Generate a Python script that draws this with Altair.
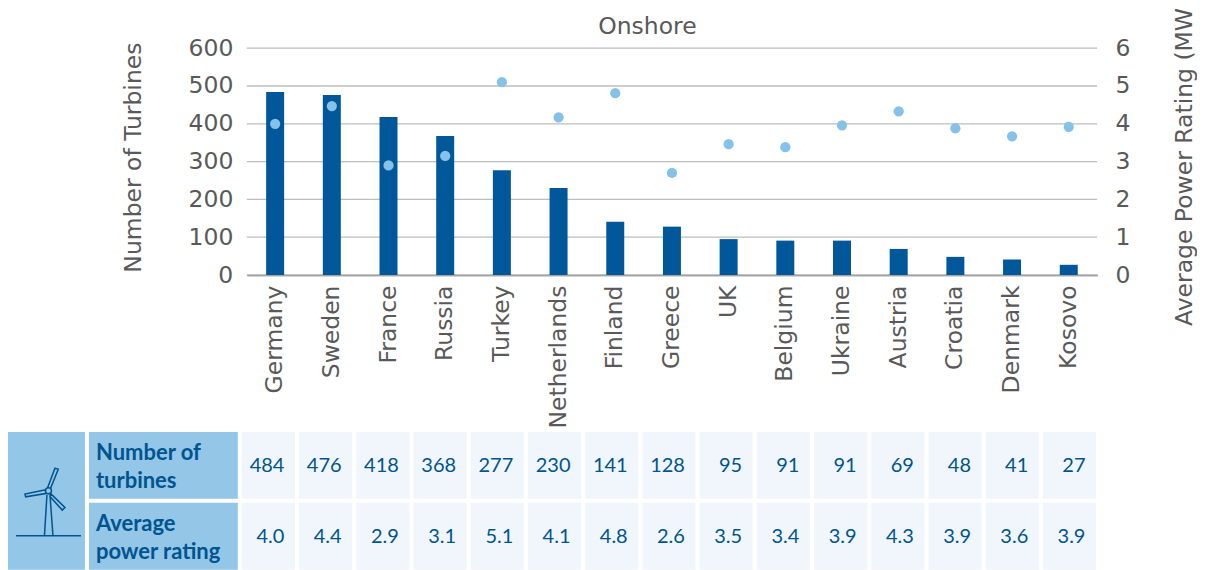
import altair as alt
import pandas as pd

countries = ["Germany", "Sweden", "France", "Russia", "Turkey", "Netherlands", "Finland", "Greece",
             "UK", "Belgium", "Ukraine", "Austria", "Croatia", "Denmark", "Kosovo"]
turbines = [484, 476, 418, 368, 277, 230, 141, 128, 95, 91, 91, 69, 48, 41, 27]
rating_points = [4.0, 4.47, 2.9, 3.15, 5.1, 4.17, 4.81, 2.7, 3.46, 3.38, 3.96, 4.33, 3.88, 3.67, 3.92]
rating_labels = ["4.0", "4.4", "2.9", "3.1", "5.1", "4.1", "4.8", "2.6", "3.5", "3.4", "3.9", "4.3", "3.9", "3.6", "3.9"]
left_ticks = [0, 100, 200, 300, 400, 500, 600]
right_ticks = [0, 1, 2, 3, 4, 5, 6]
row_names = ["Number of\nturbines", "Average\npower rating"]

AXIS_FONT = "DejaVu Sans"
AXIS_SIZE = 23.5
TABLE_FONT = "Lato"
GREY = "#595959"
NAVY = "#00548F"
BLUE = "#93C6E7"
PALE = "#F1F6FD"

W, H = 951, 318       # view: includes room for the clipped right-hand title
PW, Y0, Y600 = 851, 267, 40  # plotted region inside the view

df = pd.DataFrame({"country": countries, "turbines": turbines, "rating": rating_points})
x_scale = alt.Scale(domain=countries, range=[0, PW], paddingInner=0.0, paddingOuter=0.0)
x = alt.X("country:N", scale=x_scale, sort=None, title=None,
          axis=alt.Axis(labelAngle=270, labelFont=AXIS_FONT, labelFontSize=AXIS_SIZE, labelColor=GREY,
                        ticks=False, domainColor=GREY, domainWidth=1.5, labelPadding=10, offset=-(H - Y0),
                        labelOverlap=False))
y_left = alt.Scale(domain=[0, 600], range=[Y0, Y600])
y_right = alt.Scale(domain=[0, 6], range=[Y0, Y600])
left_axis = alt.Axis(values=left_ticks, grid=False, ticks=False, domain=False, labelFont=AXIS_FONT,
                     labelFontSize=AXIS_SIZE, labelColor=GREY, labelPadding=14, title="Number of Turbines",
                     titleFont=AXIS_FONT, titleFontSize=AXIS_SIZE, titleFontWeight="normal", titleColor=GREY,
                     titlePadding=43, titleY=149)

grid = alt.Chart(pd.DataFrame({"t": left_ticks})).mark_rule(color="#BDBDBD", strokeWidth=1.3).encode(
    y=alt.Y("t:Q", scale=y_left, axis=left_axis), x=alt.value(0), x2=alt.value(PW))
bars = alt.Chart(df).mark_bar(color="#00589B", size=18).encode(
    x=x,
    y=alt.Y("turbines:Q", scale=y_left, axis=left_axis))
dots = alt.Chart(df).mark_circle(color="#85C1E9", opacity=1, size=105).encode(
    x=x,
    y=alt.Y("rating:Q", scale=y_right,
            axis=alt.Axis(orient="right", values=right_ticks, grid=False, ticks=False, domain=False,
                          labelFont=AXIS_FONT, labelFontSize=AXIS_SIZE, labelColor=GREY, labelPadding=18,
                          title=None, offset=-(W - PW))))
one = pd.DataFrame({"k": [0]})
onshore = alt.Chart(one).mark_text(text="Onshore", font=AXIS_FONT, fontSize=AXIS_SIZE, color=GREY).encode(
    x=alt.value(401), y=alt.value(19))
right_title = alt.Chart(one).mark_text(text="Average Power Rating (MW)", font=AXIS_FONT, fontSize=AXIS_SIZE, color=GREY,
                                       angle=270, align="left", baseline="middle", clip=True).encode(
    x=alt.value(939), y=alt.value(H))

main = alt.layer(alt.layer(grid, bars), dots).resolve_scale(y="independent")
main = alt.layer(main, onshore, right_title).resolve_scale(y="independent").properties(width=W, height=H)

spacer = alt.Chart(one).mark_rect(opacity=0).encode(
    x=alt.value(0), x2=alt.value(1), y=alt.value(0), y2=alt.value(1)).properties(width=113, height=H)
top = alt.hconcat(spacer, main, spacing=0)

# ---- table ----
TH = 138
row_scale = alt.Scale(domain=["n", "p"], paddingInner=4 / 71, paddingOuter=0)
rows = ["n", "p"]
cell_df = pd.DataFrame(
    [{"country": c, "row": "n", "label": str(v)} for c, v in zip(countries, turbines)]
    + [{"country": c, "row": "p", "label": v} for c, v in zip(countries, rating_labels)])
col_scale = alt.Scale(domain=countries, paddingInner=4 / 57, paddingOuter=0)
cx = alt.X("country:N", scale=col_scale, sort=None, axis=None)
cy = alt.Y("row:N", scale=row_scale, axis=None)
cells = alt.Chart(cell_df).mark_rect(color=PALE).encode(x=cx, y=cy)
cell_txt = alt.Chart(cell_df).mark_text(font=TABLE_FONT, fontSize=20, color=NAVY, align="right", dx=16, dy=1).encode(
    x=cx, y=cy, text="label:N")
values = alt.layer(cells, cell_txt).properties(width=855, height=TH)

lab_df = pd.DataFrame({"row": rows, "name": row_names})
lab_rect = alt.Chart(lab_df).mark_rect(color=BLUE).encode(y=cy)
lab_txt = alt.Chart(lab_df).mark_text(font=TABLE_FONT, fontSize=22, fontWeight="bold", color=NAVY, align="left",
                                      lineBreak="\n", lineHeight=28, dy=-12).encode(
    y=cy, x=alt.value(7), text="name:N")
labels = alt.layer(lab_rect, lab_txt).properties(width=149, height=TH)


def _p(x, y):
    return f"{(x - 46.5) / 32.5:.3f} {(y - 501) / 32.5:.3f}"


def _poly(pts, close=True):
    s = "M" + " L".join(_p(*q) for q in pts)
    return s + (" Z" if close else "")


r = 3 / 32.5
hub_l, hub_r = _p(45.5, 491), _p(51.5, 491)
icon_path = " ".join([
    _poly([(16, 536), (81, 536)], False),
    _poly([(44.5, 536), (47, 495)], False),
    _poly([(53, 536), (50, 495)], False),
    _poly([(47.7, 487.7), (55, 468.3), (58.3, 469.3), (50.7, 488.3)]),
    _poly([(45.7, 490), (25, 494.3), (25.7, 497), (45.7, 493.7)]),
    _poly([(51, 494), (65, 507.7), (62.3, 510.3), (50, 496.7)]),
    f"M{hub_l} A{r:.3f} {r:.3f} 0 1 1 {hub_r} A{r:.3f} {r:.3f} 0 1 1 {hub_l} Z",
])
icon_bg = alt.Chart(one).mark_rect(color=BLUE).encode(x=alt.value(0), x2=alt.value(77), y=alt.value(0), y2=alt.value(TH))
icon_mark = alt.Chart(one).mark_point(shape=icon_path, filled=False, stroke=NAVY, strokeWidth=1.5, size=4225, opacity=1).encode(
    x=alt.value(38.5), y=alt.value(69))
icon = alt.layer(icon_bg, icon_mark).properties(width=77, height=TH)

bottom = alt.hconcat(icon, labels, values, spacing=4)

chart = alt.vconcat(top, bottom, spacing=3).properties(padding=0).configure_view(stroke=None)
chart.save("out.html", embed_options={"renderer": "svg", "actions": False})
